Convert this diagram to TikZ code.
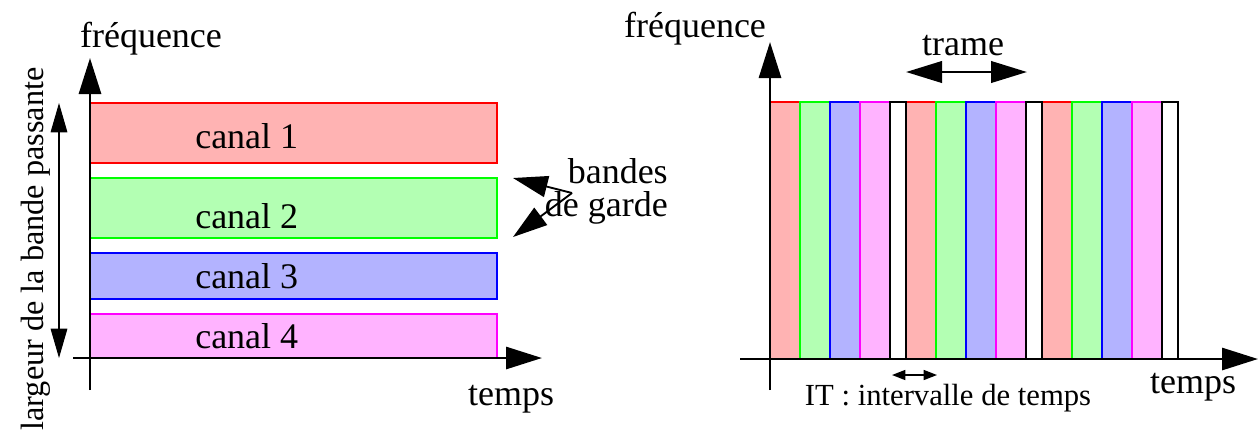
\documentclass[tikz,border=0pt]{standalone}
\usepackage{fontspec}
\setmainfont{Liberation Serif}
\usetikzlibrary{arrows.meta}
\definecolor{fr}{RGB}{255,179,179}
\definecolor{fg}{RGB}{179,255,179}
\definecolor{fb}{RGB}{179,179,255}
\definecolor{fm}{RGB}{255,179,255}
\definecolor{lr}{RGB}{255,0,0}
\definecolor{lg}{RGB}{0,255,0}
\definecolor{lb}{RGB}{0,0,255}
\definecolor{lm}{RGB}{255,0,255}
\begin{document}
\begin{tikzpicture}[x=0.75pt,y=-0.75pt,
  lbl/.style={font=\fontsize{27}{32}\selectfont, inner sep=0pt, anchor=base},
  sml/.style={font=\fontsize{23}{28}\selectfont, inner sep=0pt, anchor=base},
  axisline/.style={line width=2.2pt, -{Triangle[length=27pt,width=16.5pt]}},
  chan/.style={line width=1.5pt},
  guard/.style={line width=1.7pt, draw=black, fill=white},
  bigdbl/.style={line width=2.2pt, {Triangle[length=27pt,width=16pt]}-{Triangle[length=27pt,width=16pt]}},
  thindbl/.style={line width=0.8pt, {Triangle[length=22pt,width=12.5pt]}-{Triangle[length=22pt,width=12.5pt]}},
  smalldbl/.style={line width=1.1pt, {Triangle[length=10pt,width=7.5pt]}-{Triangle[length=10pt,width=7.5pt]}},
  gardearrow/.style={line width=1.4pt, -{Triangle[length=26pt,width=16pt]}},
]
\useasboundingbox (0,0) rectangle (1259,430);

% ---------- left: frequency multiplexing ----------
\filldraw[chan, draw=lr, fill=fr] (90,103) rectangle (497,163);
\filldraw[chan, draw=lg, fill=fg] (90,178) rectangle (497,238);
\filldraw[chan, draw=lb, fill=fb] (90,253) rectangle (497,299);
\filldraw[chan, draw=lm, fill=fm] (90,314) rectangle (497,358);

\node[lbl, anchor=base west] (c1) at (195,148) {canal 1};
\node[lbl, anchor=base west] (c2) at (195,228) {canal 2};
\node[lbl, anchor=base west] (c3) at (195,288) {canal 3};
\node[lbl, anchor=base west] (c4) at (195,348) {canal 4};

\coordinate (yb1) at (90,390);
\coordinate (yt1) at (90,58);
\coordinate (xl1) at (73,358);
\coordinate (xr1) at (542,358);
\draw[axisline] (yb1) -- (yt1);
\draw[axisline] (xl1) -- (xr1);

\node[lbl] (f1) at (151,47) {fréquence};
\node[lbl] (t1) at (511,405) {temps};

\coordinate (bwt) at (59,103);
\coordinate (bwb) at (59,358);
\draw[thindbl] (bwt) -- (bwb);
\node[sml, font=\fontsize{24.2}{28}\selectfont, rotate=90] (bw) at (43,249) {largeur de la bande passante};

\node[font=\fontsize{27}{24.75}\selectfont, inner sep=0pt, align=right, anchor=east] (gd) at (668,191) {bandes\\de garde};
\coordinate (gs) at (572,193);
\coordinate (g1) at (513,178);
\coordinate (g2) at (513,237);
\draw[gardearrow] (gs) -- (g1);
\draw[gardearrow] (gs) -- (g2);

% ---------- right: time multiplexing ----------
\foreach \k in {0,1,2} {
  \pgfmathsetmacro\xo{770+136*\k}
  \filldraw[chan, draw=lr, fill=fr] (\xo,102) rectangle ++(30,257);
  \filldraw[chan, draw=lg, fill=fg] (\xo+30,102) rectangle ++(30,257);
  \filldraw[chan, draw=lb, fill=fb] (\xo+60,102) rectangle ++(30,257);
  \filldraw[chan, draw=lm, fill=fm] (\xo+90,102) rectangle ++(30,257);
}
\foreach \k in {0,1,2} {
  \pgfmathsetmacro\xo{770+136*\k}
  \filldraw[guard] (\xo+120,102) rectangle ++(16,257);
}

\coordinate (yb2) at (770,390);
\coordinate (yt2) at (770,42);
\coordinate (xl2) at (740,359);
\coordinate (xr2) at (1258,359);
\draw[axisline] (yb2) -- (yt2);
\draw[axisline] (xl2) -- (xr2);

\node[lbl] (f2) at (695,37) {fréquence};
\node[lbl] (t2) at (1193,393) {temps};

\coordinate (trl) at (906,72);
\coordinate (trr) at (1027,72);
\draw[bigdbl] (trl) -- (trr);
\node[lbl] (tr) at (963,55) {trame};

\coordinate (itl) at (892,375);
\coordinate (itr) at (937,375);
\draw[smalldbl] (itl) -- (itr);
\node[sml] (it) at (948,405) {IT : intervalle de temps};
\end{tikzpicture}
\end{document}
